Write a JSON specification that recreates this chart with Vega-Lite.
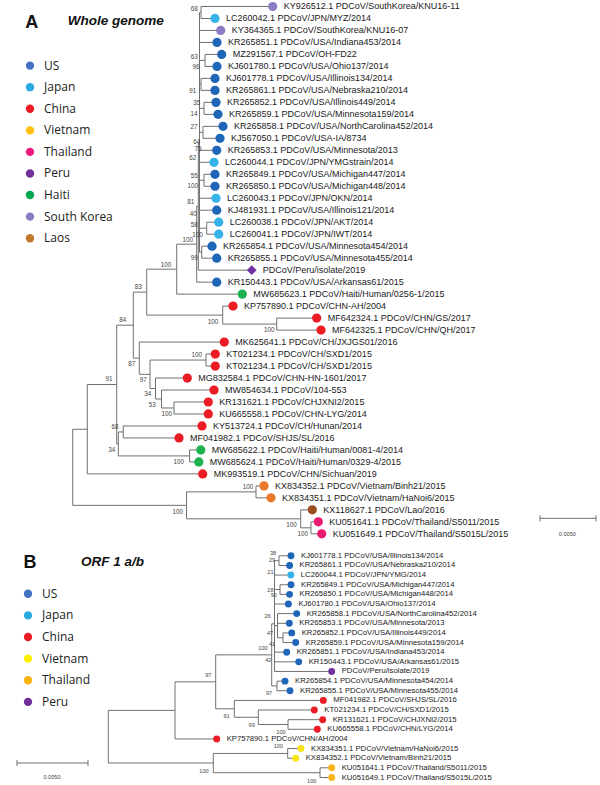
{
"$schema": "https://vega.github.io/schema/vega-lite/v6.json",
"width": 600, "height": 785,
"autosize": {"type": "fit", "contains": "padding"},
"padding": 0,
"background": "white",
"view": {"stroke": null},
"config": {"text": {"font": "Liberation Sans"}},
"datasets": {
"segs": [
{"x":72.7,"y":429.8,"x2":72.7,"y2":506},{"x":72.7,"y":429.8,"x2":87.3,"y2":429.8},{"x":87.3,"y":385,"x2":87.3,"y2":474.5},{"x":87.3,"y":474.5,"x2":202.7,"y2":474.5},{"x":87.3,"y":385,"x2":116.7,"y2":385},{"x":116.7,"y":325.6,"x2":116.7,"y2":444.5},{"x":116.7,"y":325.6,"x2":133.3,"y2":325.6},{"x":133.3,"y":292.5,"x2":133.3,"y2":358.6},{"x":133.3,"y":292.5,"x2":146.7,"y2":292.5},{"x":146.7,"y":269.5,"x2":146.7,"y2":315.5},{"x":146.7,"y":269.5,"x2":176.7,"y2":269.5},{"x":176.7,"y":244.5,"x2":176.7,"y2":294.5},{"x":176.7,"y":294.5,"x2":242.3,"y2":294.5},{"x":176.7,"y":244.5,"x2":196.7,"y2":244.5},{"x":196.7,"y":206.5,"x2":196.7,"y2":282.5},{"x":196.7,"y":282.5,"x2":216.7,"y2":282.5},{"x":196.7,"y":206.5,"x2":198.3,"y2":206.5},{"x":198.3,"y":142.5,"x2":198.3,"y2":270.5},{"x":198.3,"y":270.5,"x2":251.7,"y2":270.5},{"x":198.3,"y":142.5,"x2":199.5,"y2":142.5},{"x":199.5,"y":12.5,"x2":199.5,"y2":252.5},{"x":199.5,"y":12.5,"x2":201,"y2":12.5},{"x":201,"y":6.5,"x2":201,"y2":18.5},{"x":201,"y":6.5,"x2":272.7,"y2":6.5},{"x":201,"y":18.5,"x2":215,"y2":18.5},{"x":199.5,"y":30.5,"x2":220.7,"y2":30.5},{"x":199.5,"y":42.5,"x2":217,"y2":42.5},{"x":199.5,"y":60.5,"x2":205,"y2":60.5},{"x":205,"y":54.5,"x2":205,"y2":66.5},{"x":205,"y":54.5,"x2":221.7,"y2":54.5},{"x":205,"y":66.5,"x2":217,"y2":66.5},{"x":199.5,"y":84.5,"x2":201,"y2":84.5},{"x":201,"y":78.5,"x2":201,"y2":90.5},{"x":201,"y":78.5,"x2":215,"y2":78.5},{"x":201,"y":90.5,"x2":215,"y2":90.5},{"x":199.5,"y":108.5,"x2":204,"y2":108.5},{"x":204,"y":102.5,"x2":204,"y2":114.5},{"x":204,"y":102.5,"x2":216,"y2":102.5},{"x":204,"y":114.5,"x2":218,"y2":114.5},{"x":199.5,"y":132.5,"x2":203,"y2":132.5},{"x":203,"y":126.5,"x2":203,"y2":138.5},{"x":203,"y":126.5,"x2":223,"y2":126.5},{"x":203,"y":138.5,"x2":220,"y2":138.5},{"x":199.5,"y":150.5,"x2":216.7,"y2":150.5},{"x":199.5,"y":162.5,"x2":214,"y2":162.5},{"x":199.5,"y":180.5,"x2":204,"y2":180.5},{"x":204,"y":174.5,"x2":204,"y2":186.5},{"x":204,"y":174.5,"x2":215,"y2":174.5},{"x":204,"y":186.5,"x2":215,"y2":186.5},{"x":199.5,"y":198.5,"x2":216,"y2":198.5},{"x":199.5,"y":210.5,"x2":216.7,"y2":210.5},{"x":199.5,"y":228.5,"x2":206.7,"y2":228.5},{"x":206.7,"y":222.5,"x2":206.7,"y2":234.5},{"x":206.7,"y":222.5,"x2":218.7,"y2":222.5},{"x":206.7,"y":234.5,"x2":218.7,"y2":234.5},{"x":199.5,"y":252.5,"x2":201.7,"y2":252.5},{"x":201.7,"y":246.5,"x2":201.7,"y2":258.5},{"x":201.7,"y":246.5,"x2":212,"y2":246.5},{"x":201.7,"y":258.5,"x2":216.7,"y2":258.5},{"x":146.7,"y":315.5,"x2":222.7,"y2":315.5},{"x":222.7,"y":306.5,"x2":222.7,"y2":324.5},{"x":222.7,"y":306.5,"x2":233,"y2":306.5},{"x":222.7,"y":324.5,"x2":276.7,"y2":324.5},{"x":276.7,"y":318.5,"x2":276.7,"y2":330.5},{"x":276.7,"y":318.5,"x2":316.7,"y2":318.5},{"x":276.7,"y":330.5,"x2":321,"y2":330.5},{"x":133.3,"y":358.6,"x2":139.3,"y2":358.6},{"x":139.3,"y":342.5,"x2":139.3,"y2":374.8},{"x":139.3,"y":342.5,"x2":224.3,"y2":342.5},{"x":139.3,"y":374.8,"x2":150,"y2":374.8},{"x":150,"y":360.5,"x2":150,"y2":389},{"x":150,"y":360.5,"x2":206,"y2":360.5},{"x":206,"y":354.5,"x2":206,"y2":366.5},{"x":206,"y":354.5,"x2":215.3,"y2":354.5},{"x":206,"y":366.5,"x2":215.3,"y2":366.5},{"x":150,"y":389,"x2":155.5,"y2":389},{"x":155.5,"y":378.5,"x2":155.5,"y2":399.5},{"x":155.5,"y":378.5,"x2":187.3,"y2":378.5},{"x":155.5,"y":399.5,"x2":161.5,"y2":399.5},{"x":161.5,"y":390.5,"x2":161.5,"y2":408.5},{"x":161.5,"y":390.5,"x2":214,"y2":390.5},{"x":161.5,"y":408.5,"x2":174,"y2":408.5},{"x":174,"y":402.5,"x2":174,"y2":414.5},{"x":174,"y":402.5,"x2":208.3,"y2":402.5},{"x":174,"y":414.5,"x2":208.3,"y2":414.5},{"x":116.7,"y":444.5,"x2":118.3,"y2":444.5},{"x":118.3,"y":432.5,"x2":118.3,"y2":456.5},{"x":118.3,"y":432.5,"x2":123.3,"y2":432.5},{"x":123.3,"y":426.5,"x2":123.3,"y2":438.5},{"x":123.3,"y":426.5,"x2":202,"y2":426.5},{"x":123.3,"y":438.5,"x2":179,"y2":438.5},{"x":118.3,"y":456.5,"x2":189.6,"y2":456.5},{"x":189.6,"y":450.5,"x2":189.6,"y2":462.5},{"x":189.6,"y":450.5,"x2":200.8,"y2":450.5},{"x":189.6,"y":462.5,"x2":198.8,"y2":462.5},{"x":72.7,"y":506,"x2":186.5,"y2":506},{"x":186.5,"y":492.5,"x2":186.5,"y2":519.5},{"x":186.5,"y":492.5,"x2":256,"y2":492.5},{"x":256,"y":486.5,"x2":256,"y2":498.5},{"x":256,"y":486.5,"x2":264,"y2":486.5},{"x":256,"y":498.5,"x2":271,"y2":498.5},{"x":186.5,"y":519.5,"x2":300.7,"y2":519.5},{"x":300.7,"y":510.5,"x2":300.7,"y2":528.5},{"x":300.7,"y":510.5,"x2":312.3,"y2":510.5},{"x":300.7,"y":528.5,"x2":311,"y2":528.5},{"x":311,"y":522.5,"x2":311,"y2":534.5},{"x":311,"y":522.5,"x2":318.3,"y2":522.5},{"x":311,"y":534.5,"x2":321.7,"y2":534.5},
{"x":540,"y":519,"x2":596,"y2":519},{"x":540,"y":516,"x2":540,"y2":522},{"x":596,"y":516,"x2":596,"y2":522},
{"x":108.3,"y":711.3,"x2":108.3,"y2":764},{"x":108.3,"y":711.3,"x2":175,"y2":711.3},{"x":175,"y":682.7,"x2":175,"y2":739.9},{"x":175,"y":739.9,"x2":216.7,"y2":739.9},{"x":175,"y":682.7,"x2":215.7,"y2":682.7},{"x":215.7,"y":655.7,"x2":215.7,"y2":709.7},{"x":215.7,"y":709.7,"x2":234.3,"y2":709.7},{"x":234.3,"y":701.3,"x2":234.3,"y2":718.2},{"x":234.3,"y":701.3,"x2":323.3,"y2":701.3},{"x":234.3,"y":718.2,"x2":258.3,"y2":718.2},{"x":258.3,"y":710.9,"x2":258.3,"y2":725.4},{"x":258.3,"y":710.9,"x2":314.3,"y2":710.9},{"x":258.3,"y":725.4,"x2":288,"y2":725.4},{"x":288,"y":720.6,"x2":288,"y2":730.2},{"x":288,"y":720.6,"x2":322.7,"y2":720.6},{"x":288,"y":730.2,"x2":317.3,"y2":730.2},{"x":215.7,"y":655.7,"x2":271.7,"y2":655.7},{"x":271.7,"y":624.6,"x2":271.7,"y2":686.8},{"x":271.7,"y":686.8,"x2":277,"y2":686.8},{"x":277,"y":682,"x2":277,"y2":691.6},{"x":277,"y":682,"x2":285,"y2":682},{"x":277,"y":691.6,"x2":290,"y2":691.6},{"x":271.7,"y":624.6,"x2":274.5,"y2":624.6},{"x":274.5,"y":561.4,"x2":274.5,"y2":672.3},{"x":274.5,"y":561.4,"x2":279,"y2":561.4},{"x":279,"y":556.5,"x2":279,"y2":566.2},{"x":279,"y":556.5,"x2":291,"y2":556.5},{"x":279,"y":566.2,"x2":289.6,"y2":566.2},{"x":274.5,"y":575.8,"x2":290.8,"y2":575.8},{"x":274.5,"y":590.3,"x2":280,"y2":590.3},{"x":280,"y":585.5,"x2":280,"y2":595.1},{"x":280,"y":585.5,"x2":291,"y2":585.5},{"x":280,"y":595.1,"x2":289.6,"y2":595.1},{"x":274.5,"y":604.8,"x2":288.4,"y2":604.8},{"x":274.5,"y":626.5,"x2":277.5,"y2":626.5},{"x":277.5,"y":614.4,"x2":277.5,"y2":638.6},{"x":277.5,"y":614.4,"x2":296.7,"y2":614.4},{"x":277.5,"y":624.1,"x2":289.3,"y2":624.1},{"x":277.5,"y":638.6,"x2":283,"y2":638.6},{"x":283,"y":633.7,"x2":283,"y2":643.4},{"x":283,"y":633.7,"x2":291.7,"y2":633.7},{"x":283,"y":643.4,"x2":295.7,"y2":643.4},{"x":274.5,"y":653,"x2":286.7,"y2":653},{"x":274.5,"y":662.7,"x2":298.7,"y2":662.7},{"x":274.5,"y":672.3,"x2":331.7,"y2":672.3},{"x":108.3,"y":764,"x2":213.3,"y2":764},{"x":213.3,"y":754.4,"x2":213.3,"y2":773.7},{"x":213.3,"y":754.4,"x2":287.7,"y2":754.4},{"x":287.7,"y":749.5,"x2":287.7,"y2":759.2},{"x":287.7,"y":749.5,"x2":301,"y2":749.5},{"x":287.7,"y":759.2,"x2":295.7,"y2":759.2},{"x":213.3,"y":773.7,"x2":320,"y2":773.7},{"x":320,"y":768.8,"x2":320,"y2":778.5},{"x":320,"y":768.8,"x2":331.7,"y2":768.8},{"x":320,"y":778.5,"x2":331.7,"y2":778.5},
{"x":17,"y":764,"x2":88,"y2":764},{"x":17,"y":761,"x2":17,"y2":767},{"x":88,"y":761,"x2":88,"y2":767}
],
"leaves": [
{"panel":"A","x":272.7,"y":6.5,"country":"South Korea","label":"KY926512.1 PDCoV/SouthKorea/KNU16-11"},
{"panel":"A","x":215,"y":18.5,"country":"Japan","label":"LC260042.1 PDCoV/JPN/MYZ/2014"},
{"panel":"A","x":220.7,"y":30.5,"country":"South Korea","label":"KY364365.1 PDCoV/SouthKorea/KNU16-07"},
{"panel":"A","x":217,"y":42.5,"country":"US","label":"KR265851.1 PDCoV/USA/Indiana453/2014"},
{"panel":"A","x":221.7,"y":54.5,"country":"US","label":"MZ291567.1 PDCoV/OH-FD22"},
{"panel":"A","x":217,"y":66.5,"country":"US","label":"KJ601780.1 PDCoV/USA/Ohio137/2014"},
{"panel":"A","x":215,"y":78.5,"country":"US","label":"KJ601778.1 PDCoV/USA/Illinois134/2014"},
{"panel":"A","x":215,"y":90.5,"country":"US","label":"KR265861.1 PDCoV/USA/Nebraska210/2014"},
{"panel":"A","x":216,"y":102.5,"country":"US","label":"KR265852.1 PDCoV/USA/Illinois449/2014"},
{"panel":"A","x":218,"y":114.5,"country":"US","label":"KR265859.1 PDCoV/USA/Minnesota159/2014"},
{"panel":"A","x":223,"y":126.5,"country":"US","label":"KR265858.1 PDCoV/USA/NorthCarolina452/2014"},
{"panel":"A","x":220,"y":138.5,"country":"US","label":"KJ567050.1 PDCoV/USA-IA/8734"},
{"panel":"A","x":216.7,"y":150.5,"country":"US","label":"KR265853.1 PDCoV/USA/Minnesota/2013"},
{"panel":"A","x":214,"y":162.5,"country":"Japan","label":"LC260044.1 PDCoV/JPN/YMGstrain/2014"},
{"panel":"A","x":215,"y":174.5,"country":"US","label":"KR265849.1 PDCoV/USA/Michigan447/2014"},
{"panel":"A","x":215,"y":186.5,"country":"US","label":"KR265850.1 PDCoV/USA/Michigan448/2014"},
{"panel":"A","x":216,"y":198.5,"country":"Japan","label":"LC260043.1 PDCoV/JPN/OKN/2014"},
{"panel":"A","x":216.7,"y":210.5,"country":"US","label":"KJ481931.1 PDCoV/USA/Illinois121/2014"},
{"panel":"A","x":218.7,"y":222.5,"country":"Japan","label":"LC260038.1 PDCoV/JPN/AKT/2014"},
{"panel":"A","x":218.7,"y":234.5,"country":"Japan","label":"LC260041.1 PDCoV/JPN/IWT/2014"},
{"panel":"A","x":212,"y":246.5,"country":"US","label":"KR265854.1 PDCoV/USA/Minnesota454/2014"},
{"panel":"A","x":216.7,"y":258.5,"country":"US","label":"KR265855.1 PDCoV/USA/Minnesota455/2014"},
{"panel":"A","x":251.7,"y":270.5,"country":"Peru","label":"PDCoV/Peru/isolate/2019"},
{"panel":"A","x":216.7,"y":282.5,"country":"US","label":"KR150443.1 PDCoV/USA/Arkansas61/2015"},
{"panel":"A","x":242.3,"y":294.5,"country":"Haiti","label":"MW685623.1 PDCoV/Haiti/Human/0256-1/2015"},
{"panel":"A","x":233,"y":306.5,"country":"China","label":"KP757890.1 PDCoV/CHN-AH/2004"},
{"panel":"A","x":316.7,"y":318.5,"country":"China","label":"MF642324.1 PDCoV/CHN/GS/2017"},
{"panel":"A","x":321,"y":330.5,"country":"China","label":"MF642325.1 PDCoV/CHN/QH/2017"},
{"panel":"A","x":224.3,"y":342.5,"country":"China","label":"MK625641.1 PDCoV/CH/JXJGS01/2016"},
{"panel":"A","x":215.3,"y":354.5,"country":"China","label":"KT021234.1 PDCoV/CH/SXD1/2015"},
{"panel":"A","x":215.3,"y":366.5,"country":"China","label":"KT021234.1 PDCoV/CH/SXD1/2015"},
{"panel":"A","x":187.3,"y":378.5,"country":"China","label":"MG832584.1 PDCoV/CHN-HN-1601/2017"},
{"panel":"A","x":214,"y":390.5,"country":"China","label":"MW854634.1 PDCoV/104-553"},
{"panel":"A","x":208.3,"y":402.5,"country":"China","label":"KR131621.1 PDCoV/CHJXNI2/2015"},
{"panel":"A","x":208.3,"y":414.5,"country":"China","label":"KU665558.1 PDCoV/CHN-LYG/2014"},
{"panel":"A","x":202,"y":426.5,"country":"China","label":"KY513724.1 PDCoV/CH/Hunan/2014"},
{"panel":"A","x":179,"y":438.5,"country":"China","label":"MF041982.1 PDCoV/SHJS/SL/2016"},
{"panel":"A","x":200.8,"y":450.5,"country":"Haiti","label":"MW685622.1 PDCoV/Haiti/Human/0081-4/2014"},
{"panel":"A","x":198.8,"y":462.5,"country":"Haiti","label":"MW685624.1 PDCoV/Haiti/Human/0329-4/2015"},
{"panel":"A","x":202.7,"y":474.5,"country":"China","label":"MK993519.1 PDCoV/CHN/Sichuan/2019"},
{"panel":"A","x":264,"y":486.5,"country":"Vietnam","label":"KX834352.1 PDCoV/Vietnam/Binh21/2015"},
{"panel":"A","x":271,"y":498.5,"country":"Vietnam","label":"KX834351.1 PDCoV/Vietnam/HaNoi6/2015"},
{"panel":"A","x":312.3,"y":510.5,"country":"Laos","label":"KX118627.1 PDCoV/Lao/2016"},
{"panel":"A","x":318.3,"y":522.5,"country":"Thailand","label":"KU051641.1 PDCoV/Thailand/S5011/2015"},
{"panel":"A","x":321.7,"y":534.5,"country":"Thailand","label":"KU051649.1 PDCoV/Thailand/S5015L/2015"},
{"panel":"B","x":291,"y":556.5,"country":"US","label":"KJ601778.1 PDCoV/USA/Illinois134/2014"},
{"panel":"B","x":289.6,"y":566.2,"country":"US","label":"KR265861.1 PDCoV/USA/Nebraska210/2014"},
{"panel":"B","x":290.8,"y":575.8,"country":"Japan","label":"LC260044.1 PDCoV/JPN/YMG/2014"},
{"panel":"B","x":291,"y":585.5,"country":"US","label":"KR265849.1 PDCoV/USA/Michigan447/2014"},
{"panel":"B","x":289.6,"y":595.1,"country":"US","label":"KR265850.1 PDCoV/USA/Michigan448/2014"},
{"panel":"B","x":288.4,"y":604.8,"country":"US","label":"KJ601780.1 PDCoV/USA/Ohio137/2014"},
{"panel":"B","x":296.7,"y":614.4,"country":"US","label":"KR265858.1 PDCoV/USA/NorthCarolina452/2014"},
{"panel":"B","x":289.3,"y":624.1,"country":"US","label":"KR265853.1 PDCoV/USA/Minnesota/2013"},
{"panel":"B","x":291.7,"y":633.7,"country":"US","label":"KR265852.1 PDCoV/USA/Illinois449/2014"},
{"panel":"B","x":295.7,"y":643.4,"country":"US","label":"KR265859.1 PDCoV/USA/Minnesota159/2014"},
{"panel":"B","x":286.7,"y":653,"country":"US","label":"KR265851.1 PDCoV/USA/Indiana453/2014"},
{"panel":"B","x":298.7,"y":662.7,"country":"US","label":"KR150443.1 PDCoV/USA/Arkansas61/2015"},
{"panel":"B","x":331.7,"y":672.3,"country":"Peru","label":"PDCoV/Peru/isolate/2019"},
{"panel":"B","x":285,"y":682,"country":"US","label":"KR265854.1 PDCoV/USA/Minnesota454/2014"},
{"panel":"B","x":290,"y":691.6,"country":"US","label":"KR265855.1 PDCoV/USA/Minnesota455/2014"},
{"panel":"B","x":323.3,"y":701.3,"country":"China","label":"MF041982.1 PDCoV/SHJS/SL/2016"},
{"panel":"B","x":314.3,"y":710.9,"country":"China","label":"KT021234.1 PDCoV/CH/SXD1/2015"},
{"panel":"B","x":322.7,"y":720.6,"country":"China","label":"KR131621.1 PDCoV/CHJXNI2/2015"},
{"panel":"B","x":317.3,"y":730.2,"country":"China","label":"KU665558.1 PDCoV/CHN/LYG/2014"},
{"panel":"B","x":216.7,"y":739.9,"country":"China","label":"KP757890.1 PDCoV/CHN/AH/2004"},
{"panel":"B","x":301,"y":749.5,"country":"Vietnam","label":"KX834351.1 PDCoV/Vietnam/HaNoi6/2015"},
{"panel":"B","x":295.7,"y":759.2,"country":"Vietnam","label":"KX834352.1 PDCoV/Vietnam/Binh21/2015"},
{"panel":"B","x":331.7,"y":768.8,"country":"Thailand","label":"KU051641.1 PDCoV/Thailand/S5011/2015"},
{"panel":"B","x":331.7,"y":778.5,"country":"Thailand","label":"KU051649.1 PDCoV/Thailand/S5015L/2015"}
],
"boots": [
{"panel":"A","x":194.3,"y":9,"v":"68"},{"panel":"A","x":194.3,"y":57.3,"v":"63"},{"panel":"A","x":196,"y":66.7,"v":"96"},{"panel":"A","x":192.7,"y":90.7,"v":"91"},{"panel":"A","x":196.7,"y":102.7,"v":"35"},{"panel":"A","x":194,"y":114.3,"v":"14"},{"panel":"A","x":194,"y":126.7,"v":"27"},{"panel":"A","x":196.7,"y":141.7,"v":"64"},{"panel":"A","x":198,"y":149.5,"v":"75"},{"panel":"A","x":192.7,"y":158.3,"v":"62"},{"panel":"A","x":194.3,"y":176.7,"v":"55"},{"panel":"A","x":192.7,"y":186.7,"v":"100"},{"panel":"A","x":190.7,"y":202.7,"v":"81"},{"panel":"A","x":193.3,"y":214,"v":"40"},{"panel":"A","x":194.3,"y":225.3,"v":"58"},{"panel":"A","x":197.5,"y":235,"v":"100"},{"panel":"A","x":187.7,"y":240,"v":"100"},{"panel":"A","x":194.3,"y":258.3,"v":"99"},{"panel":"A","x":166,"y":265,"v":"100"},{"panel":"A","x":138.3,"y":287.7,"v":"83"},{"panel":"A","x":122.7,"y":320,"v":"84"},{"panel":"A","x":213,"y":322.7,"v":"100"},{"panel":"A","x":269.3,"y":330.7,"v":"100"},{"panel":"A","x":196.7,"y":355.3,"v":"100"},{"panel":"A","x":131.7,"y":364.3,"v":"87"},{"panel":"A","x":143.3,"y":380,"v":"97"},{"panel":"A","x":109,"y":379.3,"v":"91"},{"panel":"A","x":147.7,"y":395,"v":"34"},{"panel":"A","x":152.3,"y":406,"v":"53"},{"panel":"A","x":166.7,"y":415,"v":"100"},{"panel":"A","x":115,"y":427.7,"v":"68"},{"panel":"A","x":111.7,"y":450.7,"v":"34"},{"panel":"A","x":178.8,"y":462.7,"v":"100"},{"panel":"A","x":248,"y":487.7,"v":"100"},{"panel":"A","x":177.7,"y":512.3,"v":"100"},{"panel":"A","x":291.5,"y":525.7,"v":"100"},{"panel":"A","x":302.7,"y":535,"v":"100"},
{"panel":"B","x":273,"y":553.3,"v":"38"},{"panel":"B","x":272,"y":560.7,"v":"29"},{"panel":"B","x":270.4,"y":572.3,"v":"21"},{"panel":"B","x":270.4,"y":590.7,"v":"28"},{"panel":"B","x":273.8,"y":596,"v":"90"},{"panel":"B","x":267.5,"y":617,"v":"26"},{"panel":"B","x":270,"y":633.5,"v":"47"},{"panel":"B","x":272,"y":645,"v":"41"},{"panel":"B","x":263,"y":648.7,"v":"100"},{"panel":"B","x":268.3,"y":660.5,"v":"42"},{"panel":"B","x":269,"y":694.3,"v":"97"},{"panel":"B","x":208.3,"y":675.7,"v":"97"},{"panel":"B","x":226.7,"y":717.3,"v":"91"},{"panel":"B","x":251.7,"y":725.7,"v":"99"},{"panel":"B","x":281,"y":733,"v":"100"},{"panel":"B","x":278.3,"y":746.7,"v":"100"},{"panel":"B","x":204,"y":771.7,"v":"100"},{"panel":"B","x":311.7,"y":781.7,"v":"100"},
{"panel":"S","x":567.3,"y":534.3,"v":"0.0050"},{"panel":"S","x":52,"y":778,"v":"0.0050"}
],
"legend": [
{"panel":"A","x":30,"y":65.7,"country":"US"},{"panel":"A","x":30,"y":87.3,"country":"Japan"},{"panel":"A","x":30,"y":108.9,"country":"China"},{"panel":"A","x":30,"y":130.5,"country":"Vietnam"},{"panel":"A","x":30,"y":152.1,"country":"Thailand"},{"panel":"A","x":30,"y":173.7,"country":"Peru"},{"panel":"A","x":30,"y":195.3,"country":"Haiti"},{"panel":"A","x":30,"y":216.9,"country":"South Korea"},{"panel":"A","x":30,"y":238.5,"country":"Laos"},
{"panel":"B","x":28,"y":594.5,"country":"US"},{"panel":"B","x":28,"y":616.2,"country":"Japan"},{"panel":"B","x":28,"y":637.8,"country":"China"},{"panel":"B","x":28,"y":659.5,"country":"Vietnam"},{"panel":"B","x":28,"y":681.1,"country":"Thailand"},{"panel":"B","x":28,"y":702.8,"country":"Peru"}
],
"titles": [
{"kind":"letter","x":31.7,"y":23,"t":"A"},{"kind":"sub","x":67.7,"y":21.5,"t":"Whole genome"},
{"kind":"letter","x":30,"y":563.5,"t":"B"},{"kind":"sub","x":81,"y":562.7,"t":"ORF 1 a/b"}
]
},
"resolve": {"scale": {"color": "independent"}},
"layer": [
{"data": {"name": "segs"}, "mark": {"type": "rule", "color": "#707070", "strokeWidth": 1},
 "encoding": {"x": {"field": "x", "type": "quantitative", "scale": {"domain": [0, 600], "nice": false, "zero": false}, "axis": null},
  "x2": {"field": "x2"},
  "y": {"field": "y", "type": "quantitative", "scale": {"domain": [0, 785], "reverse": true, "nice": false, "zero": false}, "axis": null},
  "y2": {"field": "y2"}}},
{"data": {"name": "leaves"}, "transform": [{"filter": "datum.panel == 'A' && datum.country != 'Peru'"}],
 "mark": {"type": "point", "filled": true, "opacity": 1, "size": 85, "shape": "circle"},
 "encoding": {"x": {"field": "x", "type": "quantitative"}, "y": {"field": "y", "type": "quantitative"},
  "color": {"field": "country", "type": "nominal", "legend": null, "scale": {"domain": ["US","Japan","China","Vietnam","Thailand","Peru","Haiti","South Korea","Laos"], "range": ["#1f66b8","#35b2e8","#ec1c24","#e8782a","#ea1a72","#7030a0","#1db14f","#8c7cc4","#9a4d1f"]}}}},
{"data": {"name": "leaves"}, "transform": [{"filter": "datum.panel == 'A' && datum.country == 'Peru'"}],
 "mark": {"type": "point", "filled": true, "opacity": 1, "size": 95, "shape": "diamond", "color": "#7030a0"},
 "encoding": {"x": {"field": "x", "type": "quantitative"}, "y": {"field": "y", "type": "quantitative"}}},
{"data": {"name": "leaves"}, "transform": [{"filter": "datum.panel == 'B'"}],
 "mark": {"type": "point", "filled": true, "opacity": 1, "size": 48, "shape": "circle"},
 "encoding": {"x": {"field": "x", "type": "quantitative"}, "y": {"field": "y", "type": "quantitative"},
  "color": {"field": "country", "type": "nominal", "legend": null, "scale": {"domain": ["US","Japan","China","Vietnam","Thailand","Peru"], "range": ["#1f66b8","#35b2e8","#ec1c24","#f7e51a","#fbb31a","#7030a0"]}}}},
{"data": {"name": "leaves"}, "transform": [{"filter": "datum.panel == 'A'"}],
 "mark": {"type": "text", "align": "left", "baseline": "middle", "dx": 11, "fontSize": 9, "color": "#1a1a1a"},
 "encoding": {"x": {"field": "x", "type": "quantitative"}, "y": {"field": "y", "type": "quantitative"}, "text": {"field": "label"}}},
{"data": {"name": "leaves"}, "transform": [{"filter": "datum.panel == 'B'"}],
 "mark": {"type": "text", "align": "left", "baseline": "middle", "dx": 10, "fontSize": 7.7, "color": "#1a1a1a"},
 "encoding": {"x": {"field": "x", "type": "quantitative"}, "y": {"field": "y", "type": "quantitative"}, "text": {"field": "label"}}},
{"data": {"name": "boots"}, "transform": [{"filter": "datum.panel == 'A'"}],
 "mark": {"type": "text", "align": "center", "baseline": "middle", "fontSize": 6.3, "color": "#444444"},
 "encoding": {"x": {"field": "x", "type": "quantitative"}, "y": {"field": "y", "type": "quantitative"}, "text": {"field": "v"}}},
{"data": {"name": "boots"}, "transform": [{"filter": "datum.panel != 'A'"}],
 "mark": {"type": "text", "align": "center", "baseline": "middle", "fontSize": 5.6, "color": "#444444"},
 "encoding": {"x": {"field": "x", "type": "quantitative"}, "y": {"field": "y", "type": "quantitative"}, "text": {"field": "v"}}},
{"data": {"name": "legend"}, "transform": [{"filter": "datum.panel == 'A'"}],
 "mark": {"type": "point", "filled": true, "opacity": 1, "size": 70, "shape": "circle"},
 "encoding": {"x": {"field": "x", "type": "quantitative"}, "y": {"field": "y", "type": "quantitative"},
  "color": {"field": "country", "type": "nominal", "legend": null, "scale": {"domain": ["US","Japan","China","Vietnam","Thailand","Peru","Haiti","South Korea","Laos"], "range": ["#4472c4","#2aa9e0","#ed1c24","#ffc20e","#ec1a7a","#6f3198","#00a651","#8b7bc0","#c07a2e"]}}}},
{"data": {"name": "legend"}, "transform": [{"filter": "datum.panel == 'B'"}],
 "mark": {"type": "point", "filled": true, "opacity": 1, "size": 70, "shape": "circle"},
 "encoding": {"x": {"field": "x", "type": "quantitative"}, "y": {"field": "y", "type": "quantitative"},
  "color": {"field": "country", "type": "nominal", "legend": null, "scale": {"domain": ["US","Japan","China","Vietnam","Thailand","Peru"], "range": ["#4472c4","#2aa9e0","#ed1c24","#fff000","#fbb40f","#6f3198"]}}}},
{"data": {"name": "legend"},
 "mark": {"type": "text", "align": "left", "baseline": "middle", "dx": 14, "fontSize": 12, "font": "Open Sans", "color": "#222222"},
 "encoding": {"x": {"field": "x", "type": "quantitative"}, "y": {"field": "y", "type": "quantitative"}, "text": {"field": "country"}}},
{"data": {"name": "titles"}, "transform": [{"filter": "datum.kind == 'letter'"}],
 "mark": {"type": "text", "align": "center", "baseline": "middle", "fontSize": 18, "fontWeight": "bold", "font": "Liberation Sans", "color": "#111111"},
 "encoding": {"x": {"field": "x", "type": "quantitative"}, "y": {"field": "y", "type": "quantitative"}, "text": {"field": "t"}}},
{"data": {"name": "titles"}, "transform": [{"filter": "datum.kind == 'sub'"}],
 "mark": {"type": "text", "align": "left", "baseline": "middle", "fontSize": 13.5, "fontWeight": "bold", "fontStyle": "italic", "font": "Liberation Sans", "color": "#111111"},
 "encoding": {"x": {"field": "x", "type": "quantitative"}, "y": {"field": "y", "type": "quantitative"}, "text": {"field": "t"}}}
]
}
